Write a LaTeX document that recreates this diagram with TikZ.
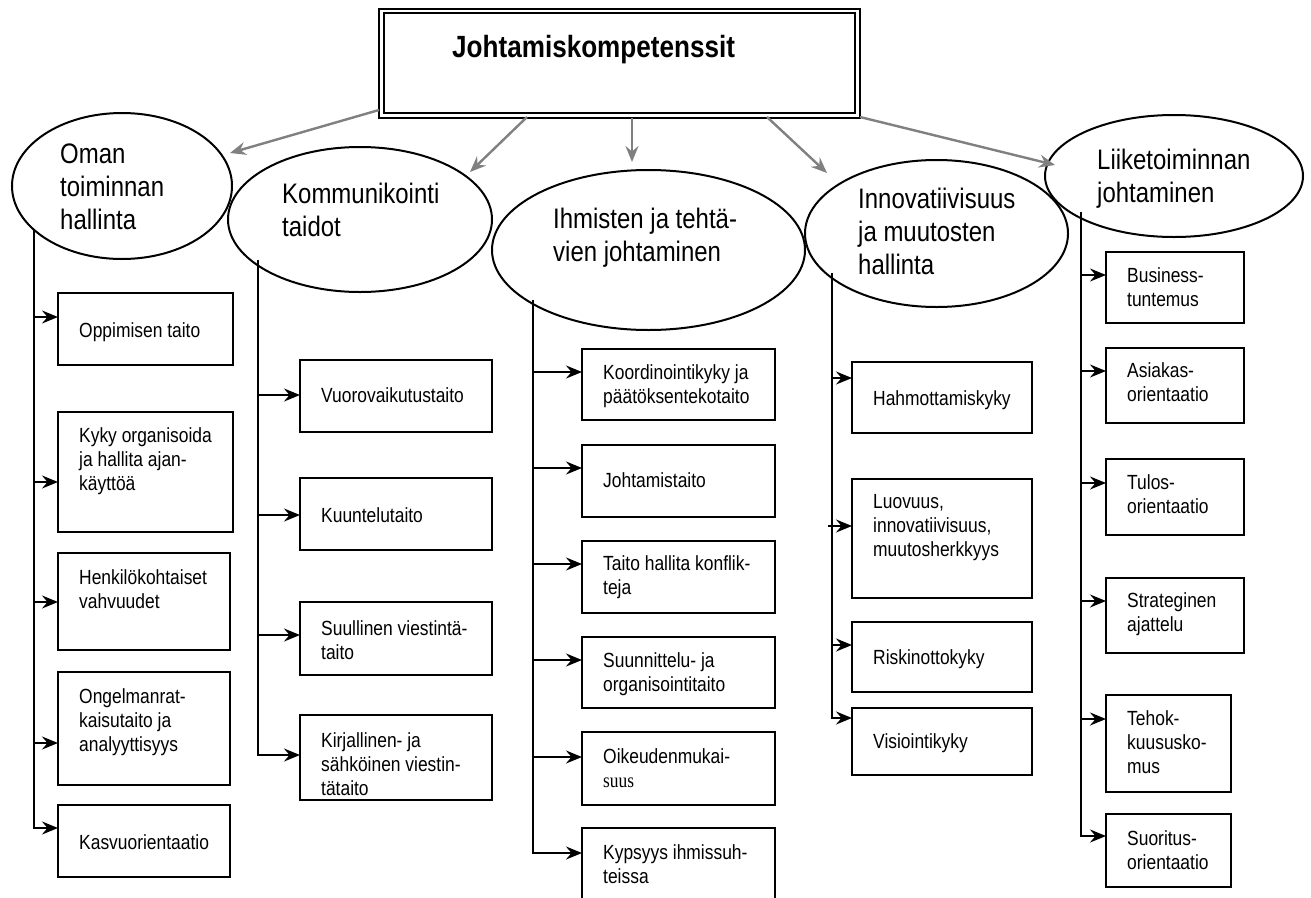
\documentclass[tikz,border=0pt]{standalone}
\usepackage{fontspec}
\setmainfont{Liberation Sans}[FakeStretch=0.85]
\newfontfamily\serifpart{Liberation Serif}[FakeStretch=0.85]
\usetikzlibrary{shapes.geometric,arrows.meta,calc}
\definecolor{linkgray}{RGB}{128,128,128}

% left-aligned lines whose baseline is the first line's baseline
\newcommand\txtlines[1]{\begin{tabular}[t]{@{}l@{}}#1\end{tabular}}

% competence box: name, left, top, right, bottom, arrow offset, first baseline offset, text
\newcommand\cbox[8]{%
  \node[box, anchor=north west, minimum width={#4-#2}, minimum height={#5-#3}] (#1) at (#2,#3) {};
  \coordinate (#1-a) at ($(#1.north west)+(0,#6)$);
  \node[boxtext] (#1-t) at ($(#1.north west)+(21,#7)$) {\txtlines{#8}};
}

\begin{document}
\begin{tikzpicture}[x=1pt,y=-1pt,
  box/.style={draw, rectangle, line width=2pt, inner sep=0pt, outer sep=0pt, fill=white},
  ell/.style={draw, ellipse, line width=2pt, inner sep=0pt, outer sep=0pt},
  boxtext/.style={inner sep=0pt, anchor=base west, font=\fontsize{20.5}{24.3}\selectfont},
  elltext/.style={inner sep=0pt, anchor=base west, font=\fontsize{28.2}{33}\selectfont},
  branch/.style={line width=2pt, -{Stealth[length=16pt,width=13pt,inset=5.5pt]}},
  feed/.style={line width=2.4pt, draw=linkgray, -{Stealth[length=16pt,width=13pt,inset=5.5pt]}}
]
\fill[white] (0,0) rectangle (1311,897);
\useasboundingbox (0,0) rectangle (1311,897);

% heading
\node[draw, double, double distance=2.5pt, line width=2pt, inner sep=0pt, outer sep=0pt,
      minimum width=476, minimum height=104.5, anchor=north west] (top) at (381.5,11) {};
\node[inner sep=0pt, anchor=base west, font=\bfseries\fontsize{30.7}{36}\selectfont] (title) at (452,57) {Johtamiskompetenssit};

% competence areas
\node[ell, minimum width=220, minimum height=146] (oman) at (122,186) {};
\node[ell, minimum width=264, minimum height=145] (kom) at (360,219.5) {};
\node[ell, minimum width=313, minimum height=160] (ihm) at (648.5,250) {};
\node[ell, minimum width=263, minimum height=147] (inn) at (936.5,233.5) {};
\node[ell, minimum width=258, minimum height=122] (lik) at (1174,176) {};

\node[elltext] (oman-t) at ($(oman.center)+(-62,-23)$) {\txtlines{Oman\\toiminnan\\hallinta}};
\node[elltext] (kom-t) at ($(kom.center)+(-78,-16.5)$) {\txtlines{Kommunikointi\\taidot}};
\node[elltext] (ihm-t) at ($(ihm.center)+(-95.5,-22)$) {\txtlines{Ihmisten ja tehtä-\\vien johtaminen}};
\node[elltext] (inn-t) at ($(inn.center)+(-78.5,-25.5)$) {\txtlines{Innovatiivisuus\\ja muutosten\\hallinta}};
\node[elltext] (lik-t) at ($(lik.center)+(-77,-7)$) {\txtlines{Liiketoiminnan\\johtaminen}};

% links from the heading to the areas
\coordinate (s1) at ($(top.south west)+(-2.5,-5.5)$);
\coordinate (s2) at ($(top.south west)+(145.5,1.5)$);
\coordinate (s3) at ($(top.south west)+(250.5,2.5)$);
\coordinate (s4) at ($(top.south west)+(385.5,1.5)$);
\coordinate (s5) at ($(top.south east)+(2.5,1.5)$);
\draw[feed] (s1) -- ($(oman.center)+(108,-33)$);
\draw[feed] (s2) -- ($(kom.center)+(110,-47.5)$);
\draw[feed] (s3) -- ($(ihm.center)+(-16.5,-88)$);
\draw[feed] (s4) -- ($(inn.center)+(-109.5,-60.5)$);
\draw[feed] (s5) -- ($(lik.center)+(-119,-11)$);

% Oman toiminnan hallinta
\cbox{b11}{58}{293}{233}{365}{24}{44}{Oppimisen taito}
\cbox{b12}{58}{412}{233}{532}{70}{30}{Kyky organisoida\\ja hallita ajan-\\käyttöä}
\cbox{b13}{58}{553}{230}{650}{49}{31}{Henkilökohtaiset\\vahvuudet}
\cbox{b14}{58}{672}{230}{785}{71}{31}{Ongelmanrat-\\kaisutaito ja\\analyyttisyys}
\cbox{b15}{58}{805}{230}{877}{23}{44}{Kasvuorientaatio}

% Kommunikointi taidot
\cbox{b21}{300}{360}{492}{432}{35}{42}{Vuorovaikutustaito}
\cbox{b22}{300}{478}{492}{550}{37}{44}{Kuuntelutaito}
\cbox{b23}{300}{602}{492}{675}{33}{33}{Suullinen viestintä-\\taito}
\cbox{b24}{300}{715}{492}{800}{40}{32}{Kirjallinen- ja\\sähköinen viestin-\\tätaito}

% Ihmisten ja tehtävien johtaminen
\cbox{b31}{582}{349}{775}{420}{23}{30}{Koordinointikyky ja\\päätöksentekotaito}
\cbox{b32}{582}{445}{775}{517}{23}{42}{Johtamistaito}
\cbox{b33}{582}{541}{775}{613}{23}{29}{Taito hallita konflik-\\teja}
\cbox{b34}{582}{637}{775}{708}{23}{30}{Suunnittelu- ja\\organisointitaito}
\cbox{b35}{582}{732}{775}{805}{25}{31}{Oikeudenmukai-\\{\serifpart suus}}
\cbox{b36}{582}{828}{775}{905}{25}{31}{Kypsyys ihmissuh-\\teissa}

% Innovatiivisuus ja muutosten hallinta
\cbox{b41}{852}{362}{1032}{433}{16}{43}{Hahmottamiskyky}
\cbox{b42}{852}{479}{1032}{598}{47}{29}{Luovuus,\\innovatiivisuus,\\muutosherkkyys}
\cbox{b43}{852}{622}{1032}{692}{23}{42}{Riskinottokyky}
\cbox{b44}{852}{708}{1032}{775}{10}{40}{Visiointikyky}

% Liiketoiminnan johtaminen
\cbox{b51}{1106}{252}{1244}{323}{23}{30}{Business-\\tuntemus}
\cbox{b52}{1106}{348}{1244}{423}{23}{29}{Asiakas-\\orientaatio}
\cbox{b53}{1106}{459}{1244}{535}{24}{30}{Tulos-\\orientaatio}
\cbox{b54}{1106}{578}{1244}{653}{23}{29}{Strateginen\\ajattelu}
\cbox{b55}{1106}{695}{1231}{792}{24}{30}{Tehok-\\kuususko-\\mus}
\cbox{b56}{1106}{814}{1231}{887}{22}{31}{Suoritus-\\orientaatio}

% trunks and branches
\coordinate (t1) at ($(oman.center)+(-88,44)$);
\coordinate (t2) at ($(kom.center)+(-102,40.5)$);
\coordinate (t3) at ($(ihm.center)+(-115.5,50)$);
\coordinate (t4) at ($(inn.center)+(-104.5,39.5)$);
\coordinate (t5) at ($(lik.center)+(-93,36)$);

\draw[branch] (t1) -- (t1 |- b15-a) -- (b15-a);
\foreach \n in {b11,b12,b13,b14} \draw[branch] (t1 |- \n-a) -- (\n-a);

\draw[branch] (t2) -- (t2 |- b24-a) -- (b24-a);
\foreach \n in {b21,b22,b23} \draw[branch] (t2 |- \n-a) -- (\n-a);

\draw[branch] (t3) -- (t3 |- b36-a) -- (b36-a);
\foreach \n in {b31,b32,b33,b34,b35} \draw[branch] (t3 |- \n-a) -- (\n-a);

\draw[branch] (t4) -- (t4 |- b44-a) -- (b44-a);
\foreach \n in {b41,b43} \draw[branch] (t4 |- \n-a) -- (\n-a);
\draw[branch] ($(t4 |- b42-a)+(-4,0)$) -- (b42-a);

\draw[branch] (t5) -- (t5 |- b56-a) -- (b56-a);
\foreach \n in {b51,b52,b53,b54,b55} \draw[branch] (t5 |- \n-a) -- (\n-a);
\end{tikzpicture}
\end{document}
